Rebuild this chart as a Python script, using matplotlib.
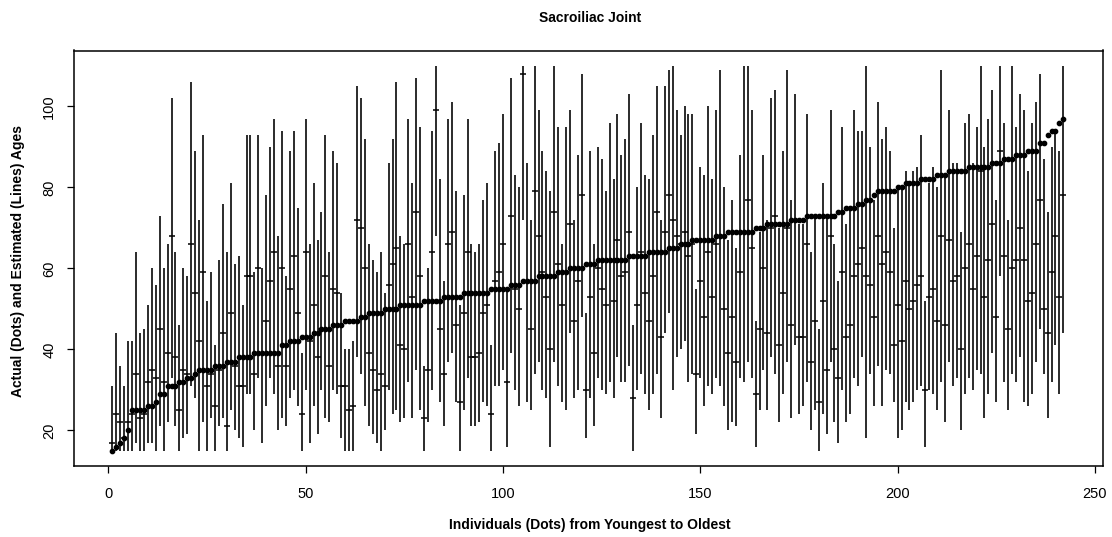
import matplotlib
matplotlib.use("Agg")
import matplotlib.pyplot as plt
import numpy as np

plt.rcParams['font.family'] = ['Liberation Sans', 'DejaVu Sans']

title = "Sacroiliac Joint"
xlabel = "Individuals (Dots) from Youngest to Oldest"
ylabel = "Actual (Dots) and Estimated (Lines) Ages"
xticks = [0, 50, 100, 150, 200, 250]
yticks = [20, 40, 60, 80, 100]

actual = [
    15, 16, 17, 18, 20, 25, 25, 25, 25, 26,
    26, 27, 29, 29, 31, 31, 31, 32, 32, 33,
    33, 34, 35, 35, 35, 35, 36, 36, 36, 37,
    37, 37, 38, 38, 38, 38, 39, 39, 39, 39,
    39, 39, 39, 41, 41, 42, 42, 42, 43, 43,
    43, 44, 44, 45, 45, 45, 46, 46, 46, 47,
    47, 47, 47, 48, 48, 49, 49, 49, 49, 50,
    50, 50, 50, 51, 51, 51, 51, 51, 51, 52,
    52, 52, 52, 52, 53, 53, 53, 53, 53, 54,
    54, 54, 54, 54, 54, 54, 55, 55, 55, 55,
    55, 56, 56, 56, 57, 57, 57, 57, 58, 58,
    58, 58, 58, 59, 59, 59, 60, 60, 60, 60,
    61, 61, 61, 62, 62, 62, 62, 62, 62, 62,
    62, 63, 63, 63, 63, 63, 64, 64, 64, 64,
    64, 65, 65, 65, 66, 66, 66, 67, 67, 67,
    67, 67, 67, 68, 68, 68, 69, 69, 69, 69,
    69, 69, 69, 70, 70, 70, 71, 71, 71, 71,
    71, 71, 72, 72, 72, 72, 73, 73, 73, 73,
    73, 73, 73, 73, 74, 74, 75, 75, 75, 76,
    76, 77, 77, 78, 79, 79, 79, 79, 79, 80,
    80, 81, 81, 81, 81, 82, 82, 82, 82, 83,
    83, 83, 84, 84, 84, 84, 84, 85, 85, 85,
    85, 85, 85, 86, 86, 86, 87, 87, 87, 88,
    88, 88, 89, 89, 89, 91, 91, 93, 94, 94,
    96, 97,
]

est_low = [
    15, 15, 15, 15, 15, 15, 17, 15, 15, 17,
    17, 15, 21, 15, 22, 33, 21, 15, 18, 19,
    31, 28, 15, 22, 15, 23, 15, 21, 23, 15,
    25, 20, 18, 16, 29, 29, 20, 33, 17, 26,
    33, 29, 20, 23, 21, 28, 30, 26, 15, 30,
    17, 26, 19, 30, 23, 22, 30, 29, 18, 15,
    15, 15, 38, 34, 26, 21, 19, 17, 15, 20,
    30, 24, 25, 22, 23, 32, 23, 35, 25, 15,
    22, 30, 68, 27, 21, 37, 39, 27, 15, 25,
    33, 21, 21, 22, 27, 26, 15, 31, 31, 35,
    16, 39, 30, 26, 72, 27, 25, 34, 37, 30,
    28, 16, 37, 31, 27, 25, 44, 28, 30, 48,
    18, 28, 21, 33, 30, 29, 32, 28, 38, 32,
    32, 36, 15, 30, 34, 29, 25, 29, 34, 23,
    44, 49, 30, 38, 40, 42, 32, 34, 19, 33,
    26, 31, 29, 33, 31, 26, 20, 22, 21, 33,
    32, 37, 33, 16, 25, 35, 25, 38, 34, 22,
    29, 37, 23, 41, 24, 26, 32, 20, 25, 15,
    24, 19, 37, 22, 17, 30, 22, 24, 33, 31,
    38, 18, 34, 26, 36, 26, 35, 34, 27, 18,
    20, 27, 25, 27, 30, 31, 16, 30, 29, 25,
    32, 22, 37, 31, 33, 20, 29, 33, 30, 35,
    34, 23, 29, 39, 27, 58, 32, 25, 34, 32,
    38, 27, 26, 29, 37, 45, 34, 23, 32, 41,
    29, 44,
]

est_high = [
    31, 44, 36, 31, 42, 42, 64, 44, 45, 51,
    60, 56, 73, 60, 66, 102, 64, 46, 60, 58,
    106, 89, 72, 93, 52, 59, 41, 62, 76, 64,
    81, 61, 63, 51, 93, 93, 59, 93, 60, 78,
    90, 97, 68, 94, 58, 89, 94, 75, 39, 97,
    66, 81, 67, 74, 93, 64, 89, 86, 54, 40,
    40, 42, 105, 102, 92, 66, 62, 59, 64, 54,
    86, 92, 106, 68, 66, 97, 81, 107, 95, 36,
    60, 94, 110, 82, 57, 97, 101, 79, 51, 78,
    97, 66, 64, 66, 77, 81, 41, 89, 91, 98,
    55, 107, 83, 80, 110, 86, 72, 110, 99, 89,
    84, 79, 110, 95, 66, 95, 99, 72, 88, 108,
    49, 89, 66, 90, 87, 79, 96, 82, 98, 88,
    92, 103, 46, 80, 96, 83, 82, 93, 105, 72,
    105, 109, 110, 99, 93, 100, 98, 98, 55, 85,
    83, 100, 82, 99, 109, 80, 67, 77, 65, 88,
    110, 110, 99, 47, 69, 88, 72, 102, 104, 70,
    89, 109, 77, 103, 71, 71, 98, 64, 73, 45,
    81, 73, 99, 66, 57, 95, 71, 75, 99, 94,
    94, 110, 90, 77, 101, 92, 95, 89, 70, 80,
    80, 84, 81, 84, 85, 93, 52, 81, 85, 80,
    109, 83, 99, 86, 86, 69, 96, 98, 86, 95,
    110, 90, 97, 104, 77, 110, 96, 72, 110, 95,
    103, 99, 84, 96, 101, 108, 87, 74, 90, 94,
    89, 110,
]

est_point = [
    17, 24, 22, 18, 22, 24, 34, 23, 24, 32,
    35, 33, 45, 32, 39, 68, 38, 25, 35, 34,
    66, 54, 42, 59, 31, 34, 26, 35, 44, 21,
    49, 36, 31, 31, 58, 58, 34, 60, 39, 47,
    57, 64, 36, 60, 36, 55, 63, 49, 24, 64,
    42, 51, 38, 45, 58, 36, 55, 54, 31, 31,
    25, 26, 72, 70, 60, 39, 35, 30, 34, 31,
    56, 61, 65, 41, 40, 66, 53, 74, 58, 23,
    35, 64, 99, 45, 34, 66, 69, 46, 27, 49,
    64, 38, 38, 39, 49, 51, 24, 57, 59, 66,
    32, 73, 55, 50, 108, 57, 45, 79, 68, 59,
    53, 40, 74, 61, 51, 59, 71, 47, 57, 78,
    30, 53, 39, 60, 55, 51, 62, 52, 67, 58,
    59, 69, 28, 51, 64, 54, 47, 58, 74, 43,
    69, 78, 72, 68, 66, 69, 63, 66, 34, 57,
    48, 64, 53, 66, 68, 50, 39, 48, 37, 59,
    69, 77, 65, 29, 45, 60, 44, 70, 73, 41,
    54, 70, 46, 72, 43, 43, 66, 37, 47, 27,
    52, 35, 68, 40, 33, 59, 43, 46, 58, 61,
    65, 58, 56, 48, 68, 61, 64, 59, 41, 51,
    42, 57, 50, 52, 56, 58, 30, 53, 55, 47,
    68, 46, 67, 57, 58, 40, 60, 66, 55, 63,
    84, 53, 62, 71, 48, 89, 63, 45, 60, 62,
    70, 62, 52, 54, 66, 77, 50, 44, 59, 68,
    53, 78,
]

n = np.arange(1, len(actual) + 1)

W, H = 1112, 537
fig = plt.figure(figsize=(W / 100, H / 100), dpi=100)
left_px, right_px, top_px, bot_px = 74.3, 1103, 50.5, 466
ax = fig.add_axes([left_px / W, 1 - bot_px / H,
                   (right_px - left_px) / W, (bot_px - top_px) / H])

ax.vlines(n, est_low, est_high, colors='#111111', linewidth=1.25)
ax.plot(n, est_point, linestyle='none', marker='_', markersize=5,
        markeredgewidth=1.1, color='black')
ax.plot(n, actual, linestyle='none', marker='o', markersize=3.1,
        color='black')

ax.set_xlim(1 - 0.04 * 241, 242 + 0.04 * 241 + 0.4)
ax.set_ylim(15 - 0.04 * 95, 110 + 0.04 * 95)
ax.set_xticks(xticks)
ax.set_yticks(yticks)
ax.set_xticklabels([str(t) for t in xticks], fontsize=10.5)
ax.set_yticklabels([str(t) for t in yticks], fontsize=10.5, rotation=90,
                   va='center')
ax.tick_params(direction='out', length=5, width=0.9, pad=8)
ax.tick_params(axis='x', pad=10)
for s in ax.spines.values():
    s.set_linewidth(1.1)

fig.text(590 / W, 1 - 18 / H, title, ha='center', va='center',
         fontsize=10, fontweight='bold')
fig.text(590 / W, 1 - 525 / H, xlabel, ha='center', va='center',
         fontsize=10, fontweight='bold')
fig.text(18 / W, 1 - 261 / H, ylabel, ha='center', va='center',
         fontsize=10, fontweight='bold', rotation=90)

fig.savefig("out.png", dpi=100)
